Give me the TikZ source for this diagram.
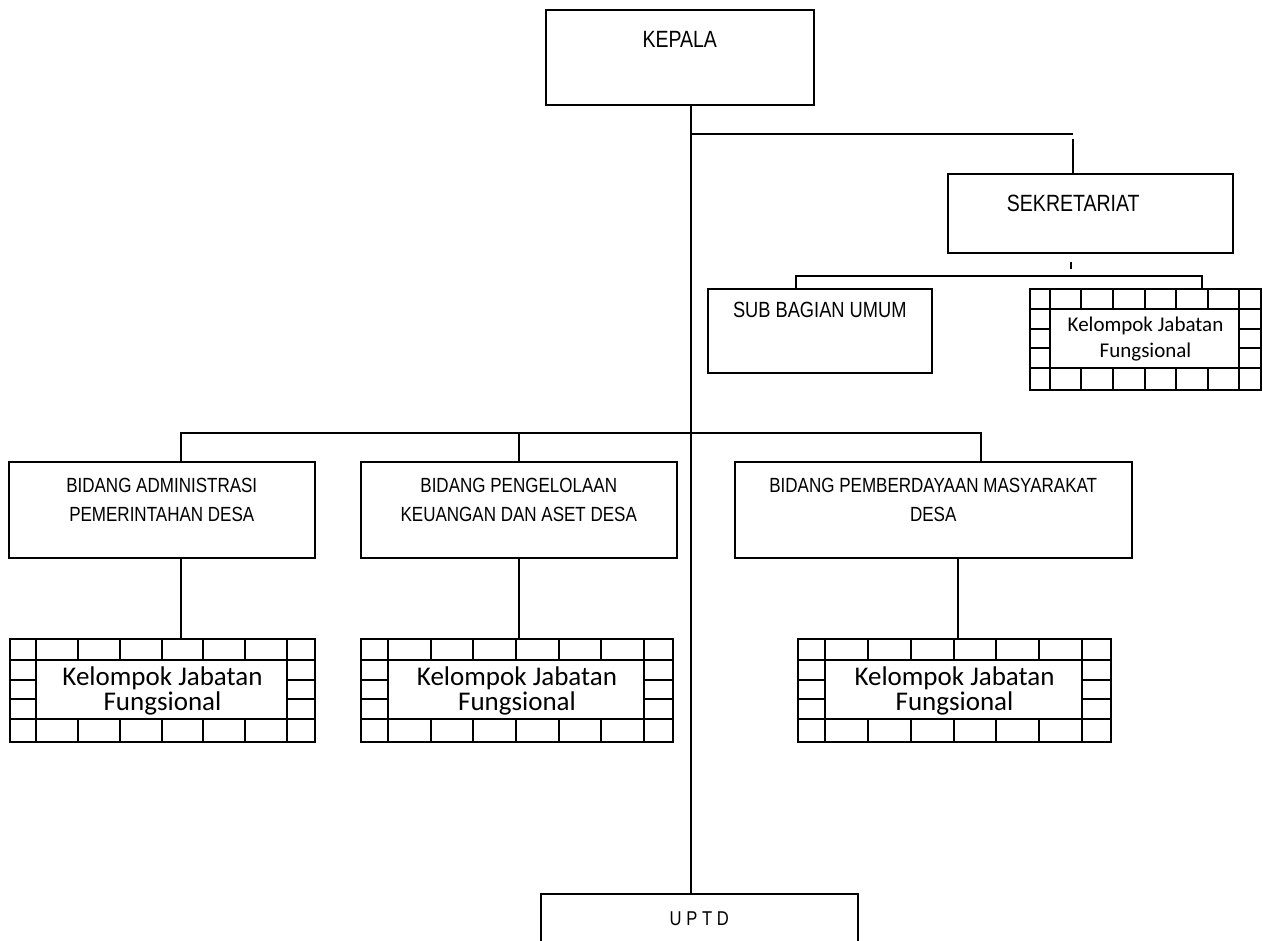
\documentclass[tikz,border=0pt]{standalone}
\usepackage{fontspec}
\setmainfont{Liberation Sans}
\newfontfamily\capfont[FakeStretch=0.83]{Liberation Sans}
\newfontfamily\jabfont{Carlito}
\usetikzlibrary{calc}

% grid box: name, left, top, width, height, style, text
\newcommand{\jabatan}[7]{%
  \node[#6, minimum width=#4pt, minimum height=#5pt] (#1) at (#2,#3) {#7};
  \pgfmathsetmacro{\ex}{0.09*#4}
  \pgfmathsetmacro{\rr}{0.21*#5}
  \begin{scope}[shift={(#2,#3)}]
    \draw[gridline] (0,\rr) -- (#4,\rr) (0,#5-\rr) -- (#4,#5-\rr);
    \draw[gridline] (\ex,\rr) -- (\ex,#5-\rr) (#4-\ex,\rr) -- (#4-\ex,#5-\rr);
    \foreach \k in {0,...,6} {
      \pgfmathsetmacro{\xx}{\ex+\k*(#4-2*\ex)/6}
      \draw[gridline] (\xx,0) -- (\xx,\rr) (\xx,#5-\rr) -- (\xx,#5);
    }
    \foreach \j in {1,2} {
      \pgfmathsetmacro{\yy}{\rr+\j*(#5-2*\rr)/3}
      \draw[gridline] (0,\yy) -- (\ex,\yy) (#4-\ex,\yy) -- (#4,\yy);
    }
  \end{scope}
}

\begin{document}
\begin{tikzpicture}[x=1pt,y=-1pt]
    \useasboundingbox (0,0) rectangle (1263,940);

    \tikzstyle{unit}=[draw=black,line width=1.5pt,anchor=north west,inner sep=0pt,align=center]
    \tikzstyle{gridline}=[draw=black,line width=2pt]
    \tikzstyle{jab}=[unit,line width=2pt,font=\jabfont\fontsize{27}{25}\selectfont]
    \tikzstyle{jabsmall}=[unit,line width=2pt,font=\jabfont\fontsize{21}{26}\selectfont]
    \tikzstyle{big}=[unit,font=\capfont\fontsize{23.5}{28}\selectfont]
    \tikzstyle{bidang}=[unit,minimum height=96pt,text height=60pt,text depth=36pt,
                        font=\capfont\fontsize{20.5}{29}\selectfont]
    \tikzstyle{link}=[draw=black,line width=1.7pt]

    \node[big,minimum width=268pt,minimum height=95pt,text height=38pt,text depth=57pt] (kepala) at (545,9) {KEPALA};
    \node[big,minimum width=285pt,minimum height=79pt,text height=38pt,text depth=41pt] (sekretariat) at (947,173) {SEKRETARIAT\hspace*{34pt}};
    \node[unit,minimum width=224pt,minimum height=84pt,text height=29pt,text depth=55pt,
          font=\capfont\fontsize{22}{26}\selectfont] (subbag) at (707,288) {SUB BAGIAN UMUM};
    \jabatan{jab0}{1029}{288}{231}{101}{jabsmall}{Kelompok Jabatan\\Fungsional}

    \node[bidang,minimum width=306pt] (bid1) at (8,461) {BIDANG ADMINISTRASI\\PEMERINTAHAN DESA};
    \node[bidang,minimum width=316pt] (bid2) at (360,461) {BIDANG PENGELOLAAN\\KEUANGAN DAN ASET DESA};
    \node[bidang,minimum width=397pt] (bid3) at (734,461) {BIDANG PEMBERDAYAAN MASYARAKAT\\DESA};

    \jabatan{jab1}{9}{638}{305}{103}{jab}{Kelompok Jabatan\\Fungsional}
    \jabatan{jab2}{360}{638}{312}{103}{jab}{Kelompok Jabatan\\Fungsional}
    \jabatan{jab3}{797}{638}{313}{103}{jab}{Kelompok Jabatan\\Fungsional}

    \node[unit,minimum width=317pt,minimum height=60pt,text height=32pt,text depth=28pt,
          font=\capfont\fontsize{20}{24}\selectfont] (uptd) at (540,893) {U P T D};

    \coordinate (jk) at (691,134);
    \coordinate (js) at (1073,134);
    \coordinate (js2) at (1073,139);
    \coordinate (ts1) at (1071,262);
    \coordinate (ts2) at (1071,269);
    \coordinate (ha) at (796,276);
    \coordinate (hb) at (1202,276);
    \coordinate (hl) at (181,433);
    \coordinate (hr) at (981,433);
    \coordinate (vb3) at (958,600);

    \draw [link] (kepala.south -| jk) -- (uptd.north -| jk);
    \draw [link] (jk) -- (js);
    \draw [link] (js2) -- (sekretariat.north -| js2);
    \draw [link] (ts1) -- (ts2);
    \draw [link] (subbag.north -| ha) -- (ha) -- (hb) -- (jab0.north -| hb);

    \draw [link] (bid1.north -| hl) -- (hl) -- (hr) -- (bid3.north -| hr);
    \draw [link] (bid2.north) -- (bid2.north |- hl);

    \draw [link] (bid1.south -| hl) -- (jab1.north -| hl);
    \draw [link] (bid2.south) -- (jab2.north -| bid2.south);
    \draw [link] (bid3.south -| vb3) -- (jab3.north -| vb3);
\end{tikzpicture}
\end{document}
